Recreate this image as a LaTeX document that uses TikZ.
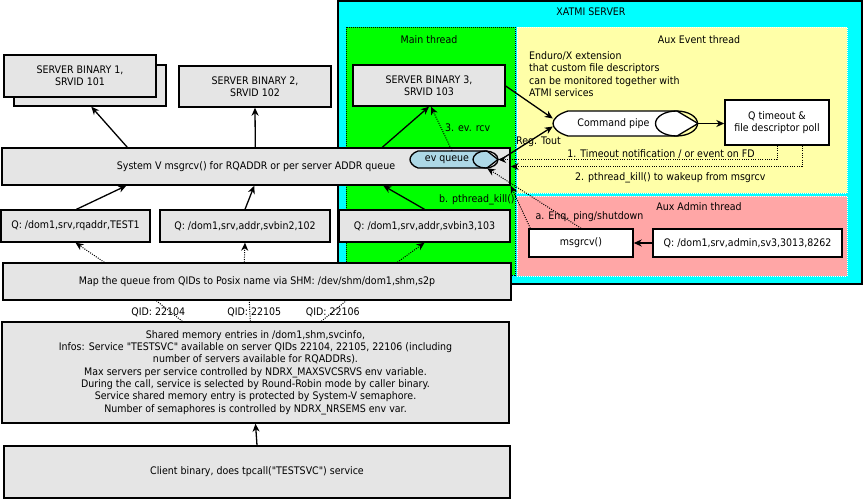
\documentclass[tikz,border=0pt]{standalone}
\usepackage{fontspec}
\setmainfont{DejaVu Sans}[FakeStretch=0.91, Ligatures=TeXOff]
\usetikzlibrary{arrows.meta,calc}
\definecolor{boxgray}{RGB}{229,229,229}
\definecolor{xcyan}{RGB}{0,255,255}
\definecolor{xgreen}{RGB}{0,255,0}
\definecolor{xyellow}{RGB}{255,255,168}
\definecolor{xpink}{RGB}{255,166,166}
\definecolor{evblue}{RGB}{173,216,230}
\begin{document}
\begin{tikzpicture}[x=1pt,y=-1pt,
  every node/.style={font=\fontsize{10.4}{12.3}\selectfont, inner sep=1pt},
  gbox/.style={draw, line width=1.4pt, fill=boxgray, align=center, inner sep=0pt},
  wbox/.style={draw, line width=1.4pt, fill=white, align=center, inner sep=0pt},
  shapeline/.style={draw, line width=1.3pt},
  anchorbox/.style={inner sep=0pt},
  conn/.style={line width=1.3pt, -{Stealth[length=8pt,width=7pt,inset=2.5pt]}},
  dconn/.style={line width=1pt, dash pattern=on 1pt off 1.3pt, -{Stealth[length=8pt,width=7pt,inset=2.5pt]}},
  dline/.style={line width=1pt, dash pattern=on 1pt off 1.3pt},
  region/.style={inner sep=0pt}
]
\useasboundingbox (0,0) rectangle (864,500);

% XATMI server container
\node[region, draw, line width=1.3pt, fill=xcyan, minimum width=524, minimum height=283] (xatmi) at (600,142.5) {};
\node (xatmit) at (591,12) {XATMI SERVER};
\node[region, draw, dash pattern=on 1pt off 1pt, line width=0.9pt, fill=xgreen, minimum width=169, minimum height=248] (mainth) at (430.5,151) {};
\node (maint) at (429,40) {Main thread};
\node[region, draw=white, dash pattern=on 1pt off 1pt, line width=0.9pt, fill=xyellow, minimum width=330, minimum height=166] (auxev) at (682,110) {};
\node (auxevt) at (699,40) {Aux Event thread};
\node[region, draw=white, dash pattern=on 1pt off 1pt, line width=0.9pt, fill=xpink, minimum width=330, minimum height=80] (auxadm) at (682,236) {};
\node (auxadmt) at (699,207) {Aux Admin thread};
\node[anchor=west, align=left, inner sep=0pt] (endx) at (529,74) {Enduro/X extension\\that custom file descriptors\\can be monitored together with\\ATMI services};

% server binaries
\node[gbox, minimum width=152, minimum height=41] (sb1back) at (90,85.5) {};
\node[gbox, minimum width=152, minimum height=42] (sb1) at (80,76) {SERVER BINARY 1,\\SRVID 101};
\node[gbox, minimum width=152, minimum height=41] (sb2) at (255,86.5) {SERVER BINARY 2,\\SRVID 102};
\node[gbox, minimum width=152, minimum height=41] (sb3) at (429,85.5) {SERVER BINARY 3,\\SRVID 103};

% System V box
\node[gbox, minimum width=508, minimum height=37] (sysv) at (256,166.5) {System V msgrcv() for RQADDR or per server ADDR queue};

% ev queue shape
\draw[shapeline, fill=evblue] (418,151) -- (487,151) -- (498,159.5) -- (487,168) -- (418,168) .. controls (412,166) and (410,162) .. (410,159.5) .. controls (410,157) and (412,153) .. cycle;
\draw[shapeline] (485.5,159.5) ellipse [x radius=12.5, y radius=8.5];
\node[anchorbox, minimum width=88, minimum height=17] (evq) at (454,159.5) {};
\node (evqt) at (447,160) {ev queue};

% command pipe shape
\draw[shapeline, fill=white] (568,111) -- (677,111) -- (698,123.5) -- (677,136) -- (568,136) .. controls (558,133) and (553,128) .. (553,123.5) .. controls (553,119) and (558,114) .. cycle;
\draw[shapeline] (676.5,123.5) ellipse [x radius=21, y radius=12.5];
\node[anchorbox, minimum width=145, minimum height=25] (cp) at (625.5,123.5) {};
\node (cpt) at (613.5,124) {Command pipe};

\node[wbox, minimum width=104, minimum height=45] (qt) at (777,122.5) {Q timeout \&\\file descriptor poll};

% queues
\node[gbox, minimum width=149, minimum height=32] (q1) at (75.5,226) {Q: /dom1,srv,rqaddr,TEST1};
\node[gbox, minimum width=170, minimum height=32] (q2) at (245,226) {Q: /dom1,srv,addr,svbin2,102};
\node[gbox, minimum width=171, minimum height=32] (q3) at (424.5,226) {Q: /dom1,srv,addr,svbin3,103};

\node[wbox, minimum width=104, minimum height=28] (msg) at (581,243) {msgrcv()};
\node[wbox, minimum width=189, minimum height=28] (qadm) at (747.5,243) {Q: /dom1,srv,admin,sv3,3013,8262};

% map box
\node[gbox, minimum width=508, minimum height=37] (map) at (257,281.5) {Map the queue from QIDs to Posix name via SHM: /dev/shm/dom1,shm,s2p};

% shm box
\node[gbox, minimum width=507, minimum height=101] (shm) at (255.5,372.5) {Shared memory entries in /dom1,shm,svcinfo,\\Infos: Service "TESTSVC" available on server QIDs 22104, 22105, 22106 (including\\number of servers available for RQADDRs).\\Max servers per service controlled by NDRX\_MAXSVCSRVS env variable.\\During the call, service is selected by Round-Robin mode by caller binary.\\Service shared memory entry is protected by System-V semaphore.\\Number of semaphores is controlled by NDRX\_NRSEMS env var.};

\node[gbox, minimum width=506, minimum height=52] (client) at (257,472) {Client binary, does tpcall("TESTSVC") service};

% connectors
\draw[conn] ($(sysv.north west)+(126,0)$) -- ($(sb1back.south west)+(78,0)$);
\draw[conn] ($(sysv.north west)+(254,0)$) -- (sb2.south);
\draw[conn] ($(sysv.north west)+(381,0)$) -- (sb3.south);
\draw[conn] ($(q1.north)+(1,0)$) -- ($(sysv.south west)+(125,0)$);
\draw[conn] (q2.north) -- ($(sysv.south west)+(253,0)$);
\draw[conn] (q3.north) -- ($(sysv.south west)+(382,0)$);
\draw[dconn] ($(evq.north)+(-2,0)$) -- node[pos=0.45, right, xshift=1pt, yshift=3pt] {3. ev. rcv} ($(sb3.south)+(2,0)$);
\draw[conn] ($(sb3.east)+(0,0.5)$) -- ($(cp.west)+(0,-5)$);
\draw[conn] ($(evq.east)+(2,0.5)$) -- node[pos=0.5, xshift=12pt, yshift=1pt] {Reg. Tout} ($(cp.west)+(0,3)$);
\draw[conn] (cp.east) -- (cp.east -| qt.west);
\draw[dconn] (qt.south) |- node[pos=0.708, above, inner sep=0.5pt] {1. Timeout notification / or event on FD} (evq.east);
\draw[dconn] ($(qt.south)+(25,0)$) |- node[pos=0.726, below, inner sep=6pt] {2. pthread\_kill() to wakeup from msgrcv} (sysv.east);
\draw[conn] (qadm.west) -- (msg.east);
\draw[dconn] (msg.north) -- node[pos=0.23, xshift=30pt, yshift=-2pt] {a. Enq. ping/shutdown} ($(evq.south east)+(-11,0)$);
\draw[dconn] ($(msg.north west)+(2,0)$) -- node[pos=0.67, anchor=east, inner sep=2pt] {b. pthread\_kill()} (sysv.south east);
\draw[dconn] ($(map.north west)+(102,0)$) -- (q1.south);
\draw[dconn] ($(map.north west)+(242,0)$) -- (q2.south);
\draw[dconn] ($(map.north west)+(395,0)$) -- (q3.south);
\draw[dline] ($(shm.north west)+(181,0)$) -- node[pos=0.5, xshift=-11pt, yshift=-1pt] {QID: 22104} ($(map.south west)+(154,0)$);
\draw[dline] ($(shm.north west)+(249,0)$) -- node[pos=0.5, xshift=4.5pt, yshift=-1pt] {QID: 22105} ($(map.south west)+(247,0)$);
\draw[dline] ($(shm.north west)+(320,0)$) -- node[pos=0.5, xshift=-1pt, yshift=-1pt] {QID: 22106} ($(map.south west)+(344,0)$);
\draw[conn] (client.north) -- (shm.south);
\end{tikzpicture}
\end{document}
